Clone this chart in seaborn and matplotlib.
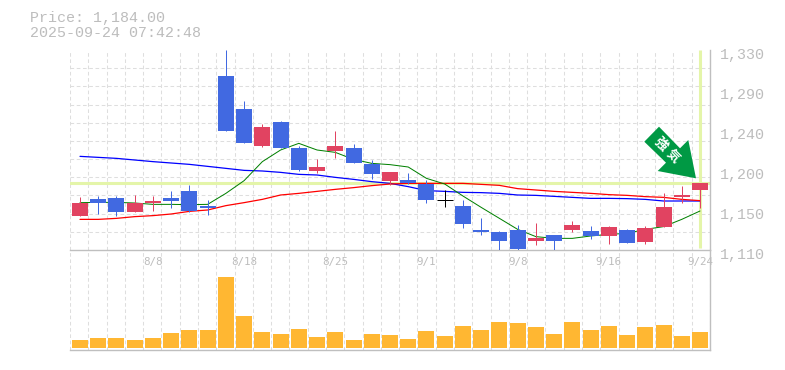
import matplotlib
matplotlib.use("Agg")
import matplotlib.pyplot as plt
from matplotlib.patches import Polygon
from matplotlib.transforms import ScaledTranslation
import numpy as np
import pandas as pd
import seaborn as sns

# --- Data ----------------------------------------------------------------
candle_color = ["r", "b", "b", "r", "r", "b", "b", "b", "b", "b", "r", "b",
                "b", "r", "r", "b", "b", "r", "b", "b", "k", "b", "b", "b",
                "b", "r", "b", "r", "b", "r", "b", "r", "r", "r", "r"]
body_top = [1161.7, 1166.1, 1167.2, 1161.7, 1163.9, 1167.2, 1174.9, 1158.4,
            1301.4, 1265.1, 1245.3, 1250.8, 1222.2, 1201.3, 1224.4, 1222.2,
            1204.6, 1195.8, 1187.0, 1182.6, 1164.6, 1158.4, 1132.0, 1129.8,
            1132.0, 1123.2, 1126.5, 1137.5, 1130.9, 1135.3, 1132.0, 1134.2,
            1157.3, 1170.5, 1184.0]
body_bottom = [1147.4, 1161.7, 1151.8, 1151.8, 1161.7, 1163.9, 1152.9, 1156.2,
               1240.9, 1227.7, 1224.4, 1222.2, 1198.0, 1196.9, 1218.9, 1205.7,
               1193.6, 1185.9, 1183.7, 1165.0, 1164.6, 1138.6, 1129.8, 1119.9,
               1111.1, 1119.9, 1119.9, 1132.0, 1125.4, 1125.4, 1117.7, 1118.8,
               1135.3, 1168.3, 1176.0]
wick_high = [1168.3, 1169.4, 1169.4, 1170.5, 1169.4, 1174.9, 1181.5, 1165.0,
             1330.0, 1273.9, 1248.6, 1251.9, 1224.4, 1210.1, 1240.9, 1226.6,
             1209.0, 1195.8, 1194.7, 1187.0, 1176.0, 1165.0, 1145.2, 1130.9,
             1137.5, 1139.7, 1126.5, 1141.9, 1136.4, 1136.4, 1133.1, 1136.4,
             1172.7, 1180.4, 1184.0]
wick_low = [1147.4, 1149.6, 1147.4, 1151.8, 1152.9, 1156.2, 1151.8, 1148.5,
            1240.9, 1227.7, 1223.3, 1222.2, 1196.9, 1194.7, 1211.2, 1205.7,
            1188.1, 1181.5, 1182.6, 1161.7, 1157.3, 1134.2, 1126.5, 1110.0,
            1110.0, 1115.5, 1110.0, 1129.8, 1122.1, 1116.6, 1117.7, 1116.6,
            1135.3, 1161.7, 1156.2]
ma_green = [1162.1, 1162.4, 1162.4, 1161.7, 1160.2, 1160.2, 1159.9, 1160.2,
            1172.3, 1186.3, 1207.2, 1220.0, 1227.3, 1220.0, 1217.4, 1209.7,
            1205.3, 1203.9, 1201.3, 1188.8, 1182.6, 1169.4, 1156.9, 1144.8,
            1132.7, 1124.7, 1122.8, 1122.8, 1125.4, 1127.2, 1128.3, 1132.7,
            1135.7, 1143.7, 1152.9]
ma_blue = [1213.0, 1211.9, 1210.8, 1209.0, 1207.2, 1205.7, 1204.2, 1202.0,
           1199.8, 1197.6, 1196.9, 1195.4, 1193.2, 1192.5, 1189.9, 1187.7,
           1185.2, 1183.3, 1179.7, 1175.3, 1174.5, 1173.4, 1173.1, 1172.3,
           1170.5, 1170.1, 1169.0, 1167.9, 1166.8, 1166.8, 1166.5, 1165.7,
           1163.9, 1163.9, 1163.9]
ma_red = [1143.7, 1143.7, 1144.8, 1146.7, 1147.8, 1149.6, 1152.5, 1154.0,
          1158.8, 1162.1, 1165.7, 1170.5, 1172.3, 1174.5, 1176.7, 1178.6,
          1180.8, 1182.6, 1183.3, 1183.3, 1183.3, 1183.3, 1182.2, 1181.1,
          1177.5, 1176.0, 1174.5, 1173.4, 1172.3, 1170.9, 1170.1, 1168.7,
          1167.9, 1165.7, 1164.3]
volume = [8, 10, 10, 8, 10, 15, 18, 18, 71, 32, 16, 14, 19, 11, 16, 8, 14, 13,
          9, 17, 12, 22, 18, 26, 25, 21, 14, 26, 18, 22, 13, 21, 23, 12, 16]
date_ticks = [4, 9, 14, 19, 24, 29, 34]
date_labels = ["8/8", "8/18", "8/25", "9/1", "9/8", "9/16", "9/24"]
price_ticks = [1330, 1286, 1242, 1198, 1154, 1110]
price_labels = ["1,330", "1,290", "1,240", "1,200", "1,150", "1,110"]
last_price = 1184.0

BODY_COLORS = {"r": "#E14361", "b": "#4169E1", "k": "#000000"}
GRID = "#DEDEDE"
TEXT = "#BDBDBD"
HIGHLIGHT = "#E4F5A9"
WIDTH = 0.877
X_MIN, X_MAX = -0.548, 34.548

sns.set_theme(style="white")
plt.rcParams["font.family"] = ["Liberation Mono", "Noto Sans CJK JP", "DejaVu Sans"]

W, H = 785, 370
fig = plt.figure(figsize=(W / 100, H / 100), dpi=100, facecolor="white")
ax_vol = fig.add_axes([70 / W, 1 - 350 / H, 640 / W, 100 / H])
ax = fig.add_axes([70 / W, 1 - 250 / H, 640 / W, 200 / H])
ax.patch.set_visible(False)

df = pd.DataFrame({"pos": np.arange(len(volume)), "volume": volume,
                   "green": ma_green, "blue": ma_blue, "red": ma_red})

# --- Volume panel ---------------------------------------------------------
sns.barplot(data=df, x="pos", y="volume", color="#FFB732", saturation=1,
            width=WIDTH, ax=ax_vol, zorder=3, linewidth=0)
ax_vol.set_xlim(X_MIN, X_MAX)
ax_vol.set_ylim(-2, 98)

# --- Price panel ----------------------------------------------------------
ax.axhline(last_price, color=HIGHLIGHT, lw=2.2, zorder=1)
ax.plot([34.02, 34.02], [1112, 1330], color=HIGHLIGHT, lw=2.2, zorder=1,
        solid_capstyle="butt")

for col, c, lw in [("blue", "#0000FF", 0.9), ("red", "#FF0000", 0.9), ("green", "#008000", 0.72)]:
    sns.lineplot(data=df, x="pos", y=col, color=c, linewidth=lw,
                 errorbar=None, ax=ax, zorder=2)

for i, kind in enumerate(candle_color):
    c = BODY_COLORS[kind]
    ax.vlines(i, wick_low[i], wick_high[i], color=c, lw=0.72, zorder=3)
    if body_top[i] == body_bottom[i]:
        ax.hlines(body_top[i], i - WIDTH / 2, i + WIDTH / 2, color=c, lw=0.72,
                  zorder=3)
    else:
        ax.bar(i, body_top[i] - body_bottom[i], bottom=body_bottom[i],
               width=WIDTH, color=c, zorder=3, linewidth=0)

ax.set_xlim(X_MIN, X_MAX)
ax.set_ylim(1110, 1330)
ax.set_xlabel("")
ax.set_ylabel("")

# Ticks: labels on the majors, dashed grid on the minors
ax.set_xticks(date_ticks, date_labels, family="DejaVu Sans Mono", fontsize=7.8, color=TEXT)
ax.set_yticks(price_ticks, price_labels, fontsize=10.8, color=TEXT)
ax.yaxis.tick_right()
ax.set_yticks(np.arange(1110, 1331, 20), minor=True)
boundaries = np.linspace(X_MIN, X_MAX, 36)
ax.set_xticks(boundaries, minor=True)
ax.tick_params(which="both", length=0)
ax.tick_params(axis="x", which="major", pad=5.0)
ax.tick_params(axis="y", which="major", pad=7.2)
shift = ScaledTranslation(0, -3 / 100, fig.dpi_scale_trans)
for label in ax.get_yticklabels():
    label.set_transform(label.get_transform() + shift)

ax_vol.set_xticks([])
ax_vol.set_xticks(boundaries, minor=True)
ax_vol.set_yticks([])
ax_vol.set_xlabel("")
ax_vol.set_ylabel("")
ax_vol.tick_params(which="both", length=0)

for a in (ax, ax_vol):
    a.set_axisbelow(True)
    a.grid(False)
    a.grid(which="minor", axis="both" if a is ax else "x", color=GRID, lw=0.75,
           ls=(0, (3.5, 2.5)), zorder=0)
    a.spines["top"].set_visible(False)
    a.spines["left"].set_visible(False)
    for s in ("bottom", "right"):
        a.spines[s].set_color("#BFBFBF")
        a.spines[s].set_linewidth(1.0)

# --- Header text ----------------------------------------------------------
fig.text(30 / W, 1 - 18 / H, "Price: 1,184.00", fontsize=10.8, color=TEXT, va="center")
fig.text(30 / W, 1 - 33 / H, "2025-09-24 07:42:48", fontsize=10.8, color=TEXT, va="center")

# --- Green signal arrow (pixel outline of the badge) ------------------------
arrow_px = [(644.3, 141.7), (659, 126.7), (680, 148.3), (688.3, 140),
            (696, 178.3), (657.7, 171), (666, 162.7)]
arrow_fig = [(x / W, 1 - y / H) for x, y in arrow_px]
fig.add_artist(Polygon(arrow_fig, closed=True, transform=fig.transFigure,
                       facecolor="#009944", edgecolor="none", zorder=5))
for txt, (x, y) in [("強", (660.5, 144)), ("気", (673.3, 155.7))]:
    fig.text(x / W, 1 - y / H, txt, color="white", fontsize=9.4, weight="bold",
             family=["Noto Sans CJK JP", "DejaVu Sans"], rotation=-45,
             rotation_mode="anchor", ha="center", va="center", zorder=6)

fig.savefig("out.png", dpi=100, facecolor="white")
